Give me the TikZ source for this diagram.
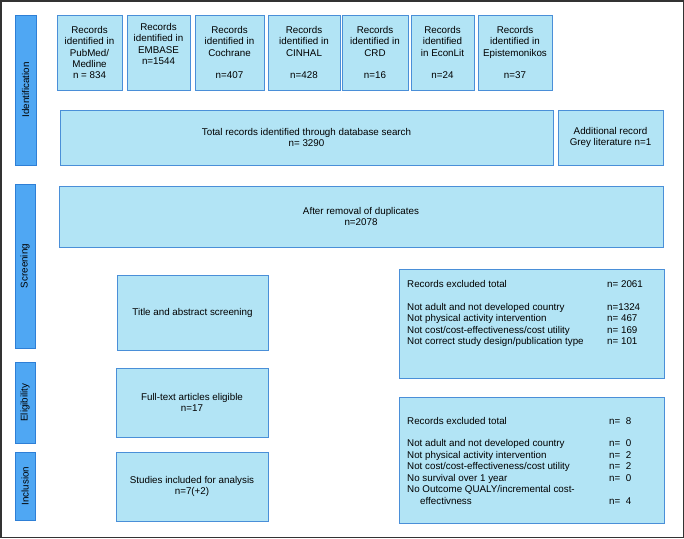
\documentclass[tikz,border=0pt]{standalone}
\usepackage{fontspec}
\setmainfont{Liberation Sans}
\definecolor{boxfill}{HTML}{B2E4F5}
\definecolor{boxline}{HTML}{4A8FD8}
\definecolor{barfill}{HTML}{4FA7F3}
\definecolor{barline}{HTML}{2E7FD6}
\definecolor{frame}{HTML}{333333}
\begin{document}
\begin{tikzpicture}[x=1pt,y=-1pt,
  every node/.style={font=\fontsize{9.8}{11.3}\selectfont, text=black},
  box/.style={draw=boxline, fill=boxfill, line width=1pt, inner sep=0pt, align=center},
  bar/.style={draw=barline, fill=barfill, line width=1pt, inner sep=0pt, rotate=90},
  lt/.style={anchor=base west, inner sep=0pt}]
\useasboundingbox (0,0) rectangle (684,538);
\draw[frame, line width=1.5pt] (0.75,0.75) rectangle (683.25,537.25);
% side bars
\node[bar, minimum width=150, minimum height=21] (s1) at (25.5,90) {Identification};
\node[bar, minimum width=164, minimum height=20] (s2) at (25,266) {Screening};
\node[bar, minimum width=81, minimum height=20] (s3) at (25,402.5) {Eligibility};
\node[bar, minimum width=68, minimum height=20] (s4) at (25,486) {Inclusion};
% top boxes
\node[box, minimum width=65, minimum height=75] (pub) at (89.5,52.5) {Records\\identified in\\PubMed/\\Medline\\n = 834};
\node[box, minimum width=63, minimum height=75] (emb) at (158.5,52.5) {};
\node[align=center, inner sep=0pt] (embt) at (158.5,44) {Records\\identified in\\EMBASE\\n=1544};
\node[box, minimum width=69, minimum height=75] (coc) at (229.5,52.5) {Records\\identified in\\Cochrane\\\mbox{}\\n=407};
\node[box, minimum width=72, minimum height=75] (cin) at (304,52.5) {Records\\identified in\\CINHAL\\\mbox{}\\n=428};
\node[box, minimum width=66, minimum height=75] (crd) at (375,52.5) {Records\\identified in\\CRD\\\mbox{}\\n=16};
\node[box, minimum width=63, minimum height=75] (eco) at (442.5,52.5) {Records\\identified\\in EconLit\\\mbox{}\\n=24};
\node[box, minimum width=74, minimum height=75] (epi) at (515,52.5) {Records\\identified in\\Epistemonikos\\\mbox{}\\n=37};
% totals
\node[box, minimum width=493, minimum height=55] (tot) at (306.5,137.5) {Total records identified through database search\\n= 3290};
\node[box, minimum width=105, minimum height=55] (add) at (610.5,137.5) {Additional record\\Grey literature n=1};
\node[box, minimum width=604, minimum height=61] (dup) at (361,216.5) {After removal of duplicates\\n=2078};
% screening
\node[box, minimum width=151, minimum height=75] (tas) at (192.5,312.5) {Title and abstract screening};
\node[box, minimum width=265, minimum height=109] (ex1) at (531.5,323.5) {};
\node[lt] (e1a) at (407,287) {Records excluded total};
\node[lt] (e1an) at (607,287) {n= 2061};
\node[lt] (e1b) at (407,310) {Not adult and not developed country};
\node[lt] (e1bn) at (607,310) {n=1324};
\node[lt] (e1c) at (407,321.5) {Not physical activity intervention};
\node[lt] (e1cn) at (607,321.5) {n= 467};
\node[lt] (e1d) at (407,333) {Not cost/cost-effectiveness/cost utility};
\node[lt] (e1dn) at (607,333) {n= 169};
\node[lt] (e1e) at (407,344.5) {Not correct study design/publication type};
\node[lt] (e1en) at (607,344.5) {n= 101};
% eligibility / inclusion
\node[box, minimum width=152, minimum height=69] (fte) at (192,402.5) {Full-text articles eligible\\n=17};
\node[box, minimum width=152, minimum height=69] (sin) at (192,486.5) {Studies included for analysis\\n=7(+2)};
\node[box, minimum width=265, minimum height=126] (ex2) at (531.5,460) {};
\node[lt] (e2a) at (407,424.5) {Records excluded total};
\node[lt] (e2an) at (609,424.5) {n=\ \ 8};
\node[lt] (e2b) at (407,446.5) {Not adult and not developed country};
\node[lt] (e2bn) at (609,446.5) {n=\ \ 0};
\node[lt] (e2c) at (407,458) {Not physical activity intervention};
\node[lt] (e2cn) at (609,458) {n=\ \ 2};
\node[lt] (e2d) at (407,469.5) {Not cost/cost-effectiveness/cost utility};
\node[lt] (e2dn) at (609,469.5) {n=\ \ 2};
\node[lt] (e2e) at (407,481) {No survival over 1 year};
\node[lt] (e2en) at (609,481) {n=\ \ 0};
\node[lt] (e2f) at (407,492.5) {No Outcome QUALY/incremental cost-};
\node[lt] (e2g) at (420,504) {effectivness};
\node[lt] (e2gn) at (609,504) {n=\ \ 4};
\end{tikzpicture}
\end{document}
